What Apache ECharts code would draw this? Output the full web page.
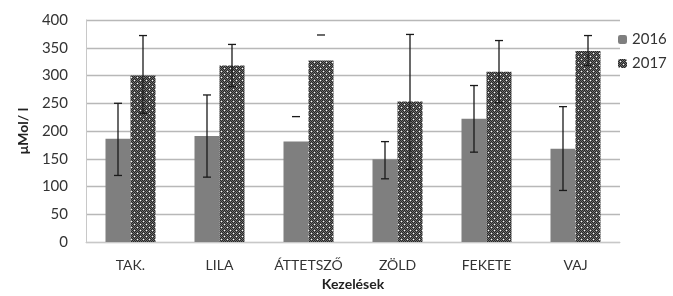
<!DOCTYPE html>
<html>
<head>
<meta charset="utf-8">
<script src="https://cdn.jsdelivr.net/npm/echarts@6/dist/echarts.min.js"></script>
<style>
  html, body { margin: 0; padding: 0; background: #fff; }
  #chart { width: 673px; height: 296px; }
</style>
</head>
<body>
<div id="chart"></div>
<script>
var categories = ['TAK.', 'LILA', 'ÁTTETSZŐ', 'ZÖLD', 'FEKETE', 'VAJ'];
var values2016 = [186, 191, 181, 149, 222, 168];
var values2017 = [300, 318, 327, 253, 307, 344];
// hibasávok (alsó / felső érték), null = csak a felső vonalka látszik
var err2016Low = [120, 117, null, 114, 162, 93];
var err2016High = [250, 265, 226, 181, 282, 244];
var err2017Low = [232, 280, null, 131, 251, 318];
var err2017High = [372, 356, 373, 374, 363, 372];
var yTicks = [0, 50, 100, 150, 200, 250, 300, 350, 400];

// mintázat a 2017-es oszlopokhoz
function makePattern() {
  var c = document.createElement('canvas');
  c.width = 6; c.height = 6;
  var ctx = c.getContext('2d');
  ctx.fillStyle = '#6e6e6e';
  ctx.fillRect(0, 0, 6, 6);
  ctx.fillStyle = '#262626';
  for (var i = 0; i < 6; i++) {
    for (var j = 0; j < 6; j++) {
      if ((i + j) % 2 === 0) ctx.fillRect(i, j, 1, 1);
    }
  }
  ctx.fillStyle = '#ffffff';
  ctx.fillRect(2, 2, 1, 1);
  ctx.fillRect(5, 5, 1, 1);
  return c;
}
var pattern = { image: makePattern(), repeat: 'repeat' };

var BAR_W = 25;

function errData(low, high) {
  var arr = [];
  for (var i = 0; i < categories.length; i++) {
    arr.push([i, low[i] == null ? high[i] : low[i], high[i], low[i] == null ? 1 : 0]);
  }
  return arr;
}

function errRender(shift, color) {
  return function (params, api) {
    var x = api.coord([api.value(0), 0])[0] + shift;
    var lo = api.coord([api.value(0), api.value(1)])[1];
    var hi = api.coord([api.value(0), api.value(2)])[1];
    var onlyCap = api.value(3) === 1;
    var st = { stroke: color, lineWidth: 1.3 };
    var kids = [
      { type: 'line', shape: { x1: x - 4, y1: hi, x2: x + 4, y2: hi }, style: st }
    ];
    if (!onlyCap) {
      kids.push({ type: 'line', shape: { x1: x, y1: hi, x2: x, y2: lo }, style: st });
      kids.push({ type: 'line', shape: { x1: x - 4, y1: lo, x2: x + 4, y2: lo }, style: st });
    }
    return { type: 'group', children: kids };
  };
}

var chart = echarts.init(document.getElementById('chart'));
var option = {
  animation: false,
  textStyle: { fontFamily: 'Lato' },
  grid: { left: 86, right: 53, top: 20, bottom: 50 },
  legend: {
    orient: 'vertical',
    left: 613,
    top: 27,
    itemWidth: 9,
    itemHeight: 9,
    itemGap: 9,
    textStyle: { fontSize: 15, color: '#333', fontFamily: 'Lato' },
    data: ['2016', '2017']
  },
  xAxis: {
    type: 'category',
    data: categories,
    name: 'Kezelések',
    nameLocation: 'middle',
    nameGap: 32,
    nameTextStyle: { fontSize: 14, fontWeight: 'bold', color: '#222' },
    axisTick: { show: false },
    axisLine: { lineStyle: { color: '#c8c8c8' } },
    axisLabel: { fontSize: 14, color: '#333', margin: 16 }
  },
  yAxis: {
    type: 'value',
    min: yTicks[0],
    max: yTicks[yTicks.length - 1],
    interval: 50,
    name: 'μMol/ l',
    nameLocation: 'middle',
    nameGap: 56,
    nameRotate: 90,
    nameTextStyle: { fontSize: 14, fontWeight: 'bold', color: '#222' },
    axisLine: { show: true, lineStyle: { color: '#c8c8c8' } },
    axisTick: { show: false },
    axisLabel: { fontSize: 15, color: '#333', margin: 18 },
    splitLine: { lineStyle: { color: '#b8b8b8', width: 1.3 } }
  },
  series: [
    {
      name: '2016',
      type: 'bar',
      data: values2016,
      barWidth: BAR_W,
      barGap: '0%',
      itemStyle: { color: '#7f7f7f' }
    },
    {
      name: '2017',
      type: 'bar',
      data: values2017,
      barWidth: BAR_W,
      barGap: '0%',
      itemStyle: { color: pattern }
    },
    {
      type: 'custom',
      name: 'err2016',
      data: errData(err2016Low, err2016High),
      encode: { x: 0, y: [1, 2] },
      renderItem: errRender(-BAR_W / 2, '#1a1a1a'),
      z: 10
    },
    {
      type: 'custom',
      name: 'err2017',
      data: errData(err2017Low, err2017High),
      encode: { x: 0, y: [1, 2] },
      renderItem: errRender(BAR_W / 2, '#1a1a1a'),
      z: 10
    }
  ]
};
chart.setOption(option);
</script>
</body>
</html>
